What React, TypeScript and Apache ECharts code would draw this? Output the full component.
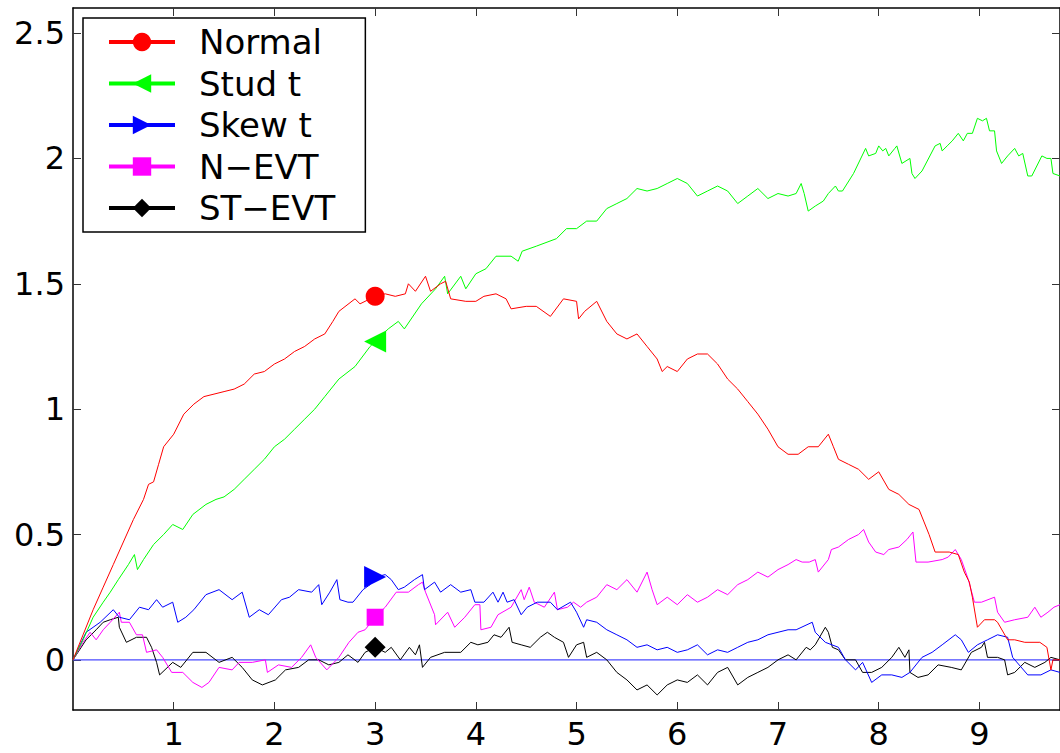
import React, { useEffect, useRef } from "react";
import * as echarts from "echarts";

type P = [number, number];

const normal: P[] = [[0,0],[0.1,0.1],[0.2,0.2],[0.3,0.29],[0.4,0.38],[0.5,0.47],[0.6,0.56],[0.7,0.64],[0.75,0.7],[0.8,0.71],[0.85,0.78],[0.9,0.85],[1.0,0.9],[1.1,0.98],[1.2,1.02],[1.3,1.05],[1.4,1.06],[1.5,1.07],[1.6,1.08],[1.7,1.1],[1.8,1.14],[1.9,1.15],[2.0,1.18],[2.1,1.2],[2.2,1.23],[2.3,1.25],[2.4,1.28],[2.5,1.3],[2.58,1.35],[2.64,1.39],[2.8,1.44],[2.85,1.42],[3.0,1.45],[3.1,1.46],[3.2,1.45],[3.3,1.46],[3.33,1.5],[3.4,1.47],[3.5,1.53],[3.55,1.47],[3.65,1.5],[3.7,1.51],[3.75,1.44],[3.9,1.43],[4.0,1.43],[4.08,1.45],[4.2,1.46],[4.3,1.44],[4.35,1.4],[4.5,1.41],[4.6,1.41],[4.74,1.37],[4.87,1.44],[5.0,1.43],[5.02,1.36],[5.08,1.39],[5.2,1.43],[5.3,1.35],[5.4,1.3],[5.5,1.28],[5.6,1.3],[5.7,1.25],[5.8,1.2],[5.85,1.15],[5.9,1.17],[6.0,1.15],[6.1,1.2],[6.2,1.22],[6.3,1.22],[6.4,1.18],[6.5,1.12],[6.6,1.08],[6.7,1.03],[6.8,0.98],[6.9,0.92],[7.0,0.85],[7.1,0.82],[7.2,0.82],[7.3,0.85],[7.4,0.85],[7.5,0.9],[7.55,0.85],[7.6,0.8],[7.7,0.78],[7.8,0.76],[7.9,0.72],[8.0,0.75],[8.1,0.68],[8.2,0.66],[8.3,0.62],[8.4,0.6],[8.45,0.55],[8.5,0.5],[8.56,0.43],[8.7,0.43],[8.79,0.42],[8.85,0.35],[8.9,0.31],[8.93,0.25],[8.98,0.13],[9.05,0.16],[9.15,0.16],[9.18,0.15],[9.28,0.08],[9.35,0.08],[9.45,0.07],[9.6,0.07],[9.67,0.05],[9.71,-0.04],[9.73,0.0],[9.8,0.0]];

const studT: P[] = [[0,0],[0.1,0.08],[0.2,0.17],[0.3,0.23],[0.37,0.27],[0.45,0.32],[0.55,0.38],[0.61,0.42],[0.64,0.36],[0.7,0.4],[0.8,0.46],[0.9,0.5],[0.99,0.54],[1.09,0.52],[1.19,0.58],[1.32,0.62],[1.42,0.64],[1.5,0.65],[1.6,0.68],[1.7,0.72],[1.8,0.76],[1.9,0.8],[2.0,0.85],[2.1,0.88],[2.2,0.92],[2.3,0.96],[2.4,1.0],[2.5,1.05],[2.64,1.12],[2.8,1.17],[2.95,1.25],[3.0,1.27],[3.13,1.32],[3.23,1.35],[3.29,1.32],[3.46,1.42],[3.6,1.48],[3.69,1.53],[3.72,1.46],[3.85,1.53],[3.9,1.48],[4.0,1.54],[4.1,1.56],[4.2,1.61],[4.35,1.61],[4.42,1.59],[4.46,1.63],[4.6,1.65],[4.8,1.68],[4.9,1.72],[5.0,1.72],[5.1,1.75],[5.2,1.75],[5.3,1.8],[5.4,1.82],[5.5,1.84],[5.6,1.88],[5.7,1.87],[5.8,1.88],[5.9,1.9],[6.0,1.92],[6.1,1.9],[6.2,1.85],[6.3,1.87],[6.4,1.89],[6.5,1.87],[6.6,1.82],[6.7,1.85],[6.8,1.88],[6.9,1.84],[7.0,1.86],[7.1,1.85],[7.18,1.86],[7.23,1.9],[7.26,1.86],[7.3,1.79],[7.37,1.81],[7.45,1.83],[7.5,1.86],[7.57,1.89],[7.6,1.87],[7.64,1.87],[7.75,1.94],[7.87,2.04],[7.9,2.01],[7.97,2.02],[8.0,2.05],[8.04,2.03],[8.07,2.04],[8.1,2.01],[8.16,2.04],[8.18,2.05],[8.23,1.98],[8.31,2.0],[8.33,1.94],[8.36,1.92],[8.43,1.95],[8.56,2.05],[8.61,2.06],[8.63,2.03],[8.68,2.05],[8.73,2.07],[8.79,2.1],[8.84,2.07],[8.88,2.1],[8.93,2.1],[8.98,2.16],[9.03,2.15],[9.07,2.16],[9.1,2.11],[9.15,2.11],[9.17,2.03],[9.22,1.98],[9.28,2.01],[9.35,2.04],[9.39,2.01],[9.43,2.02],[9.48,1.93],[9.52,1.93],[9.62,2.01],[9.67,2.0],[9.71,2.0],[9.73,1.94],[9.8,1.93]];

const skewT: P[] = [[0,0],[0.13,0.11],[0.27,0.15],[0.4,0.2],[0.46,0.17],[0.56,0.16],[0.66,0.21],[0.75,0.2],[0.83,0.24],[0.89,0.21],[0.99,0.23],[1.04,0.15],[1.12,0.17],[1.2,0.2],[1.32,0.26],[1.45,0.28],[1.58,0.24],[1.68,0.27],[1.75,0.17],[1.85,0.2],[1.94,0.18],[2.07,0.24],[2.15,0.25],[2.24,0.28],[2.37,0.27],[2.44,0.3],[2.47,0.22],[2.55,0.27],[2.62,0.32],[2.65,0.24],[2.73,0.23],[2.78,0.23],[2.88,0.28],[2.95,0.3],[3.0,0.33],[3.1,0.34],[3.16,0.32],[3.23,0.28],[3.29,0.29],[3.39,0.32],[3.47,0.34],[3.49,0.28],[3.59,0.31],[3.65,0.27],[3.75,0.3],[3.85,0.27],[3.95,0.28],[3.99,0.23],[4.08,0.23],[4.17,0.27],[4.22,0.23],[4.27,0.27],[4.31,0.23],[4.38,0.24],[4.45,0.18],[4.51,0.21],[4.61,0.23],[4.74,0.23],[4.81,0.2],[4.94,0.23],[5.0,0.19],[5.07,0.13],[5.1,0.16],[5.2,0.15],[5.3,0.12],[5.4,0.1],[5.5,0.08],[5.6,0.05],[5.7,0.06],[5.8,0.04],[5.9,0.05],[6.0,0.03],[6.1,0.04],[6.2,0.06],[6.3,0.02],[6.4,0.04],[6.5,0.03],[6.6,0.05],[6.7,0.07],[6.8,0.08],[6.9,0.1],[7.0,0.11],[7.1,0.12],[7.18,0.12],[7.34,0.15],[7.37,0.11],[7.47,0.07],[7.6,0.05],[7.67,0.0],[7.77,-0.04],[7.84,-0.01],[7.93,-0.09],[8.03,-0.06],[8.13,-0.06],[8.23,-0.07],[8.31,-0.05],[8.43,0.01],[8.53,0.03],[8.63,0.06],[8.76,0.1],[8.82,0.08],[8.89,0.03],[8.98,0.06],[9.08,0.08],[9.18,0.1],[9.28,0.09],[9.33,0.01],[9.48,-0.06],[9.61,-0.06],[9.71,-0.04],[9.8,-0.05]];

const nEvt: P[] = [[0,0],[0.1,0.07],[0.17,0.11],[0.23,0.08],[0.3,0.12],[0.37,0.15],[0.46,0.19],[0.48,0.15],[0.56,0.15],[0.63,0.1],[0.69,0.1],[0.73,0.03],[0.83,0.04],[0.89,0.01],[0.98,-0.05],[1.09,-0.05],[1.19,-0.09],[1.28,-0.11],[1.35,-0.09],[1.45,-0.03],[1.58,-0.04],[1.65,-0.01],[1.78,-0.01],[1.91,0.0],[1.93,-0.05],[2.04,-0.02],[2.17,-0.03],[2.27,0.01],[2.36,0.06],[2.41,0.01],[2.52,-0.04],[2.64,0.01],[2.74,0.07],[2.83,0.11],[2.9,0.12],[3.0,0.17],[3.1,0.21],[3.21,0.27],[3.33,0.27],[3.43,0.3],[3.47,0.31],[3.5,0.27],[3.59,0.18],[3.6,0.14],[3.72,0.19],[3.79,0.13],[3.89,0.17],[3.99,0.22],[4.04,0.22],[4.05,0.12],[4.15,0.13],[4.22,0.18],[4.35,0.21],[4.45,0.28],[4.48,0.24],[4.53,0.29],[4.58,0.23],[4.68,0.21],[4.78,0.27],[4.81,0.2],[4.91,0.21],[4.97,0.23],[5.04,0.21],[5.1,0.23],[5.2,0.25],[5.3,0.3],[5.4,0.28],[5.5,0.32],[5.6,0.27],[5.7,0.35],[5.75,0.28],[5.8,0.22],[5.9,0.25],[6.0,0.22],[6.1,0.26],[6.2,0.23],[6.3,0.25],[6.4,0.28],[6.5,0.26],[6.6,0.3],[6.7,0.32],[6.8,0.35],[6.9,0.33],[7.0,0.36],[7.1,0.38],[7.18,0.4],[7.24,0.39],[7.31,0.39],[7.37,0.4],[7.4,0.35],[7.5,0.4],[7.53,0.44],[7.6,0.45],[7.7,0.48],[7.8,0.5],[7.85,0.52],[7.9,0.47],[7.97,0.43],[8.05,0.42],[8.1,0.44],[8.2,0.45],[8.28,0.48],[8.34,0.51],[8.37,0.39],[8.49,0.39],[8.63,0.4],[8.69,0.41],[8.76,0.44],[8.82,0.4],[8.89,0.32],[8.95,0.23],[9.02,0.23],[9.15,0.25],[9.18,0.19],[9.25,0.15],[9.35,0.16],[9.48,0.17],[9.55,0.21],[9.61,0.17],[9.68,0.19],[9.74,0.21],[9.8,0.22]];

const stEvt: P[] = [[0,0],[0.13,0.08],[0.23,0.12],[0.3,0.15],[0.37,0.16],[0.45,0.17],[0.46,0.13],[0.53,0.07],[0.63,0.09],[0.73,0.09],[0.78,0.05],[0.83,-0.01],[0.86,-0.06],[0.99,-0.01],[1.07,-0.03],[1.19,0.03],[1.32,0.03],[1.45,-0.01],[1.58,0.01],[1.68,-0.03],[1.78,-0.08],[1.88,-0.1],[2.01,-0.08],[2.11,-0.04],[2.24,-0.03],[2.34,0.0],[2.44,0.0],[2.54,-0.02],[2.64,-0.01],[2.73,0.02],[2.83,-0.01],[2.9,0.03],[3.0,0.05],[3.1,0.03],[3.16,0.05],[3.25,0.0],[3.34,0.05],[3.4,0.02],[3.44,0.06],[3.47,-0.03],[3.55,0.01],[3.69,0.03],[3.85,0.03],[3.95,0.07],[4.02,0.06],[4.12,0.07],[4.18,0.1],[4.25,0.09],[4.33,0.13],[4.36,0.07],[4.45,0.06],[4.54,0.05],[4.64,0.09],[4.71,0.11],[4.78,0.09],[4.87,0.07],[4.92,0.01],[5.0,0.06],[5.07,0.07],[5.1,0.01],[5.2,0.03],[5.3,0.0],[5.4,-0.05],[5.5,-0.08],[5.6,-0.12],[5.7,-0.1],[5.8,-0.14],[5.9,-0.1],[6.0,-0.08],[6.1,-0.09],[6.2,-0.06],[6.3,-0.1],[6.4,-0.05],[6.5,-0.03],[6.6,-0.1],[6.7,-0.07],[6.8,-0.05],[6.9,-0.03],[7.0,0.0],[7.1,0.02],[7.18,0.0],[7.28,0.05],[7.32,0.04],[7.37,0.06],[7.47,0.13],[7.5,0.11],[7.54,0.05],[7.6,0.04],[7.67,0.0],[7.77,0.0],[7.84,-0.05],[7.93,-0.05],[8.03,-0.03],[8.13,0.01],[8.2,0.05],[8.26,0.01],[8.3,0.04],[8.31,-0.05],[8.39,-0.07],[8.49,-0.06],[8.59,-0.02],[8.72,-0.03],[8.82,-0.04],[8.92,0.03],[9.02,0.05],[9.05,0.07],[9.08,0.01],[9.18,0.01],[9.25,0.0],[9.28,-0.06],[9.35,-0.05],[9.45,-0.01],[9.55,-0.03],[9.65,-0.01],[9.71,0.01],[9.8,0.0]];

const seriesNames = ["Normal", "Stud t", "Skew t", "N\u2212EVT", "ST\u2212EVT"];
const seriesColors = ["#ff0000", "#00ff00", "#0000ff", "#ff00ff", "#000000"];
const seriesData = [normal, studT, skewT, nEvt, stEvt];
const markerX = 3;

const xTicks = [1, 2, 3, 4, 5, 6, 7, 8, 9];
const yTicks = [0, 0.5, 1, 1.5, 2, 2.5];
const zeroLine: P[] = [[0, 0], [9.8, 0]];

const symbols = [
  "circle",
  "path://M0,5L10,0L10,10Z",
  "path://M10,5L0,0L0,10Z",
  "rect",
  "diamond",
];
const symbolSizes = [19, 22, 22, 17, 21];

export default function App() {
  const ref = useRef<HTMLDivElement>(null);
  useEffect(() => {
    if (!ref.current) return;
    const chart = echarts.init(ref.current, undefined, { renderer: "svg" });
    const font = "DejaVu Sans";
    const axisCommon = {
      type: "value" as const,
      splitLine: { show: false },
      axisLine: { show: true, onZero: false, lineStyle: { color: "#000", width: 1.5 } },
      axisTick: { show: true, inside: true, length: 8, lineStyle: { color: "#333", width: 1 } },
    };
    const lineSeries = seriesData.map((d, i) => ({
      name: seriesNames[i],
      type: "line",
      xAxisIndex: 0,
      yAxisIndex: 0,
      symbol: symbols[i],
      symbolSize: symbolSizes[i],
      showSymbol: true,
      showAllSymbol: true,
      symbolKeepAspect: true,
      color: seriesColors[i],
      lineStyle: { width: 1, color: seriesColors[i] },
      itemStyle: { color: seriesColors[i] },
      emphasis: { disabled: true },
      z: 3 + (4 - i),
      data: d.map((p) => (p[0] === markerX ? { value: p } : { value: p, symbol: "none" })),
    }));
    chart.setOption({
      animation: false,
      backgroundColor: "#ffffff",
      grid: { left: 73, top: 8, width: 993, height: 702, containLabel: false },
      legend: {
        data: seriesNames,
        orient: "vertical",
        left: 83,
        top: 18,
        padding: [6, 30, 6, 24],
        itemGap: 5.5,
        itemWidth: 66,
        itemHeight: 23,
        backgroundColor: "#ffffff",
        borderColor: "#000",
        borderWidth: 1.5,
        borderRadius: 0,
        lineStyle: { width: 4 },
        textStyle: { fontFamily: font, fontSize: 34, lineHeight: 36, color: "#000", padding: [0, 0, 0, 19] },
        selectedMode: false,
      },
      xAxis: [
        {
          ...axisCommon,
          position: "bottom",
          min: 0,
          max: 9.8,
          axisLabel: { customValues: xTicks, fontFamily: font, fontSize: 32, color: "#000", margin: 8 },
          axisTick: { ...axisCommon.axisTick, customValues: xTicks },
        },
        {
          ...axisCommon,
          position: "top",
          min: 0,
          max: 9.8,
          axisLabel: { show: false },
          axisTick: { ...axisCommon.axisTick, customValues: xTicks },
        },
      ],
      yAxis: [
        {
          ...axisCommon,
          position: "left",
          min: -0.2,
          max: 2.6,
          axisLabel: { customValues: yTicks, fontFamily: font, fontSize: 32, color: "#000", margin: 8 },
          axisTick: { ...axisCommon.axisTick, customValues: yTicks },
        },
        {
          ...axisCommon,
          position: "right",
          min: -0.2,
          max: 2.6,
          axisLabel: { show: false },
          axisTick: { ...axisCommon.axisTick, customValues: yTicks },
        },
      ],
      series: [
        {
          name: "zero",
          type: "line",
          symbol: "none",
          silent: true,
          lineStyle: { width: 1.2, color: "#4a4aff" },
          z: 2,
          data: zeroLine,
        },
        ...lineSeries,
      ],
    });
    return () => chart.dispose();
  }, []);
  return (
    <div
      ref={ref}
      style={{ position: "absolute", left: 0, top: 0, width: 1060, height: 753, overflow: "hidden", background: "#fff" }}
    />
  );
}
